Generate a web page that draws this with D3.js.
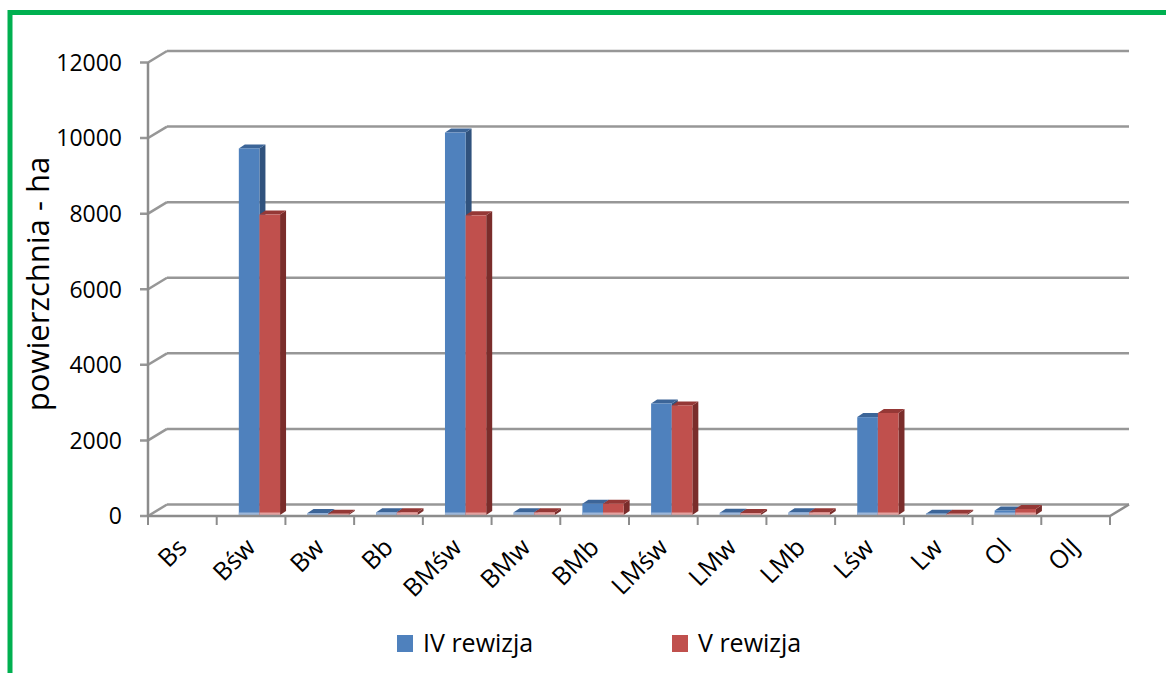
<!DOCTYPE html>
<html>
<head>
<meta charset="utf-8">
<script src="https://cdn.jsdelivr.net/npm/d3@7"></script>
<style>
  body { margin: 0; background: #fff; }
  text { font-family: "Open Sans", "DejaVu Sans", sans-serif; fill: #000; }
</style>
</head>
<body>
<div id="chart"></div>
<script>
// data
var categories = ["Bs", "Bśw", "Bw", "Bb", "BMśw", "BMw", "BMb", "LMśw", "LMw", "LMb", "Lśw", "Lw", "Ol", "OlJ"];
var seriesNames = ["IV rewizja", "V rewizja"];
var rev4 = [0, 9700, 50, 70, 10120, 70, 300, 2950, 60, 70, 2590, 35, 120, 0];
var rev5 = [0, 7950, 30, 70, 7930, 70, 300, 2900, 50, 70, 2700, 30, 160, 0];
var yTicks = [0, 2000, 4000, 6000, 8000, 10000, 12000];

var width = 1166, height = 673;

// colours of the faces: front, top, side, bottom glare
var faces = {
  "IV rewizja": { front: "#4F81BD", top: "#3C6598", side: "#30527D", glare: "#9DB7DA" },
  "V rewizja":  { front: "#C0504D", top: "#953836", side: "#7A2D2B", glare: "#E3A2A0" }
};

// depth of the walls and of the bars (oblique projection)
var wallDx = 19, wallDy = -11.5;
var barDx = 6, barDy = -4;
var frontDx = 1.5, frontDy = -1;

var svg = d3.select("#chart").append("svg")
  .attr("width", width)
  .attr("height", height);

// green frame
svg.append("path")
  .attr("d", "M10,673 L10,12.5 L1166,12.5")
  .attr("fill", "none")
  .attr("stroke", "#00B050")
  .attr("stroke-width", 5);

var x = d3.scaleBand().domain(categories).range([148, 1110]).padding(0);
var inner = d3.scaleBand().domain(seriesNames)
  .range([x.bandwidth() * 0.3, x.bandwidth() * 0.9]);
var y = d3.scaleLinear().domain([0, 12000]).range([516, 62.5]);

var gridColor = "#979797";

// back wall gridlines
svg.append("g").selectAll("line")
  .data(yTicks)
  .enter()
  .append("line")
  .attr("x1", 148 + wallDx)
  .attr("x2", 1110 + wallDx)
  .attr("y1", function(d) { return y(d) + wallDy; })
  .attr("y2", function(d) { return y(d) + wallDy; })
  .attr("stroke", gridColor)
  .attr("stroke-width", 2.5);

// side wall gridlines + ticks
svg.append("g").selectAll("path")
  .data(yTicks)
  .enter()
  .append("path")
  .attr("d", function(d) {
    return "M140," + y(d) + " L148," + y(d) + " L" + (148 + wallDx) + "," + (y(d) + wallDy);
  })
  .attr("fill", "none")
  .attr("stroke", gridColor)
  .attr("stroke-width", 2.5);

// vertical axis line
svg.append("line")
  .attr("x1", 148).attr("x2", 148)
  .attr("y1", y(12000)).attr("y2", y(0))
  .attr("stroke", "#8C8C8C")
  .attr("stroke-width", 2.5);

// y tick labels
svg.append("g").selectAll("text")
  .data(yTicks)
  .enter()
  .append("text")
  .attr("x", 122)
  .attr("y", function(d) { return y(d); })
  .attr("dy", "0.36em")
  .attr("text-anchor", "end")
  .style("font-size", "23px")
  .text(function(d) { return d; });

// y title
svg.append("text")
  .attr("transform", "translate(49,284) rotate(-90)")
  .attr("text-anchor", "middle")
  .style("font-size", "31px")
  .text("powierzchnia - ha");

// bars
var rows = categories.map(function(c, i) {
  return { cat: c, values: [
    { s: seriesNames[0], v: rev4[i] },
    { s: seriesNames[1], v: rev5[i] }
  ] };
});

var barW = inner.bandwidth();
var base = y(0) + frontDy;

var bar = svg.append("g").selectAll("g")
  .data(rows)
  .enter()
  .append("g")
  .selectAll("g")
  .data(function(d) {
    return d.values.filter(function(e) { return e.v > 0; })
      .map(function(e) { return { cat: d.cat, s: e.s, v: e.v }; });
  })
  .enter()
  .append("g");

function barX(d) { return x(d.cat) + inner(d.s) + frontDx; }
function barTop(d) { return y(d.v) + frontDy; }

// side face
bar.append("path")
  .attr("d", function(d) {
    var a = barX(d) + barW, t = barTop(d);
    return "M" + a + "," + t + " L" + (a + barDx) + "," + (t + barDy) +
      " L" + (a + barDx) + "," + (base + barDy) + " L" + a + "," + base + "Z";
  })
  .attr("fill", function(d) { return faces[d.s].side; });

// top face
bar.append("path")
  .attr("d", function(d) {
    var a = barX(d), t = barTop(d);
    return "M" + a + "," + t + " L" + (a + barW) + "," + t +
      " L" + (a + barW + barDx) + "," + (t + barDy) + " L" + (a + barDx) + "," + (t + barDy) + "Z";
  })
  .attr("fill", function(d) { return faces[d.s].top; });

// front face
bar.append("rect")
  .attr("x", barX)
  .attr("y", barTop)
  .attr("width", barW)
  .attr("height", function(d) { return Math.max(0, base - barTop(d)); })
  .attr("fill", function(d) { return faces[d.s].front; });

// glare at the foot of the bar
bar.append("rect")
  .attr("x", barX)
  .attr("y", function(d) { return Math.max(barTop(d), base - 2.5); })
  .attr("width", barW)
  .attr("height", function(d) { return Math.min(2.5, base - barTop(d)); })
  .attr("fill", function(d) { return faces[d.s].glare; });

// floor front edge and right edge
svg.append("path")
  .attr("d", "M148," + y(0) + " L1110," + y(0) + " L" + (1110 + wallDx) + "," + (y(0) + wallDy))
  .attr("fill", "none")
  .attr("stroke", "#8C8C8C")
  .attr("stroke-width", 2.5);

// category ticks
var tickX = categories.map(function(c) { return x(c); }).concat([1110]);
svg.append("g").selectAll("line")
  .data(tickX)
  .enter()
  .append("line")
  .attr("x1", function(d) { return d; })
  .attr("x2", function(d) { return d; })
  .attr("y1", y(0))
  .attr("y2", y(0) + 9)
  .attr("stroke", "#8C8C8C")
  .attr("stroke-width", 2);

// category labels
svg.append("g").selectAll("text")
  .data(categories)
  .enter()
  .append("text")
  .attr("transform", function(d) {
    return "translate(" + (x(d) + x.bandwidth() / 2 + 6) + ",549) rotate(-45)";
  })
  .attr("text-anchor", "end")
  .style("font-size", "25px")
  .text(function(d) { return d; });

// legend
var legend = svg.append("g").selectAll("g")
  .data(seriesNames)
  .enter()
  .append("g")
  .attr("transform", function(d, i) { return "translate(" + (397 + i * 275) + ",635)"; });

legend.append("rect")
  .attr("width", 16)
  .attr("height", 17)
  .attr("fill", function(d) { return faces[d].front; });

legend.append("text")
  .attr("x", 26)
  .attr("y", 17)
  .style("font-size", "25px")
  .text(function(d) { return d; });
</script>
</body>
</html>
